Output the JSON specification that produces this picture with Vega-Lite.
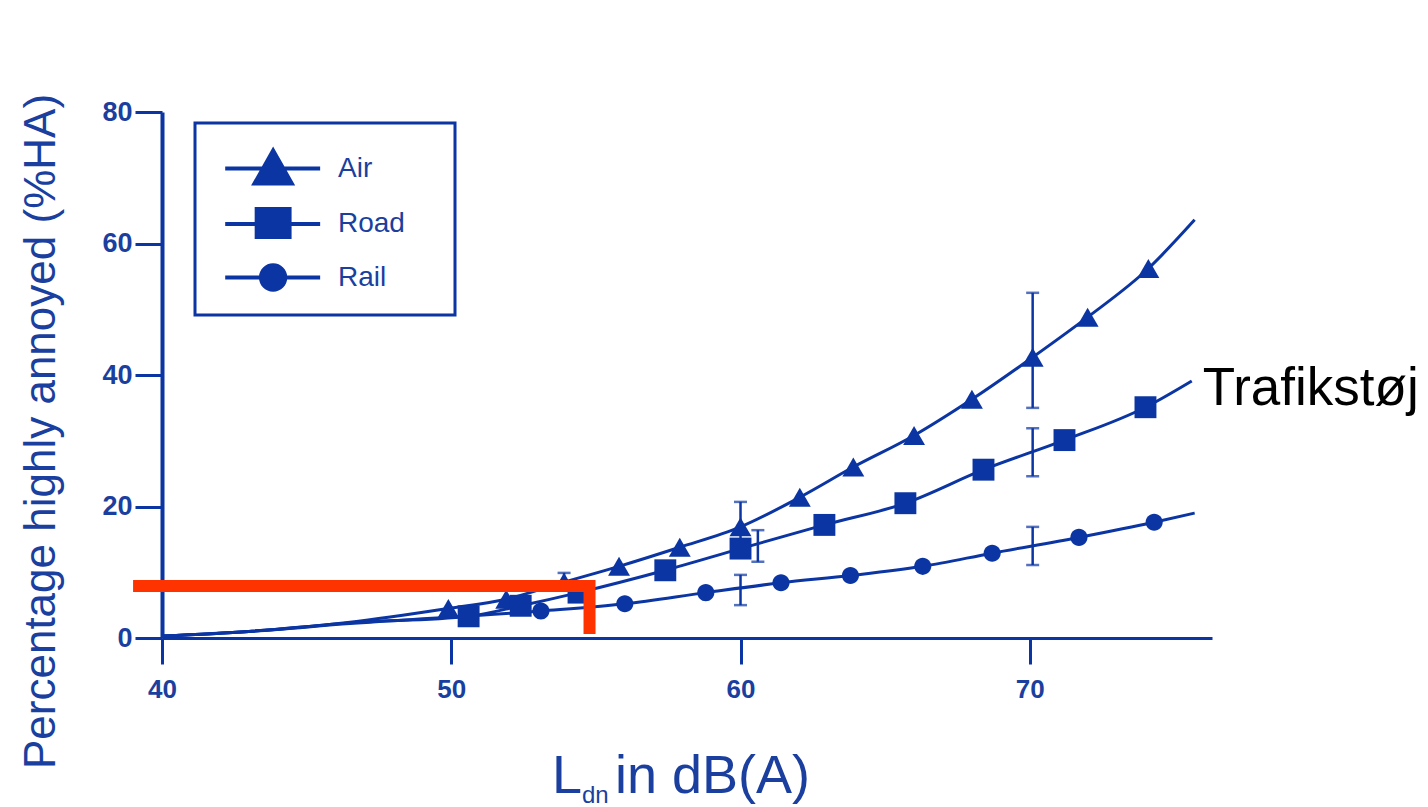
{
  "$schema": "https://vega.github.io/schema/vega-lite/v6.json",
  "autosize": "none",
  "width": 1050,
  "height": 526,
  "padding": {"left": 162, "top": 112, "right": 216, "bottom": 169},
  "background": "#ffffff",
  "config": {"view": {"stroke": null}, "legend": {"strokeWidth": 3}},
  "datasets": {
    "series": [
      {"source": "Air", "L": 40, "HA": 0.3, "marker": false},
      {"source": "Air", "L": 43, "HA": 1.0, "marker": false},
      {"source": "Air", "L": 46.5, "HA": 2.4, "marker": false},
      {"source": "Air", "L": 49.9, "HA": 4.5, "marker": true},
      {"source": "Air", "L": 51.9, "HA": 5.9, "marker": true},
      {"source": "Air", "L": 53.9, "HA": 8.5, "marker": true},
      {"source": "Air", "L": 55.8, "HA": 10.9, "marker": true},
      {"source": "Air", "L": 57.9, "HA": 13.8, "marker": true},
      {"source": "Air", "L": 60, "HA": 16.9, "marker": true},
      {"source": "Air", "L": 62.05, "HA": 21.4, "marker": true},
      {"source": "Air", "L": 63.9, "HA": 26.0, "marker": true},
      {"source": "Air", "L": 66, "HA": 30.8, "marker": true},
      {"source": "Air", "L": 68, "HA": 36.3, "marker": true},
      {"source": "Air", "L": 70.1, "HA": 42.7, "marker": true},
      {"source": "Air", "L": 72, "HA": 48.8, "marker": true},
      {"source": "Air", "L": 74.1, "HA": 56.2, "marker": true},
      {"source": "Air", "L": 75.7, "HA": 63.6, "marker": false},
      {"source": "Road", "L": 40, "HA": 0.3, "marker": false},
      {"source": "Road", "L": 43, "HA": 1.0, "marker": false},
      {"source": "Road", "L": 46.5, "HA": 2.3, "marker": false},
      {"source": "Road", "L": 50.6, "HA": 3.3, "marker": true},
      {"source": "Road", "L": 52.4, "HA": 4.9, "marker": true},
      {"source": "Road", "L": 54.4, "HA": 6.9, "marker": true},
      {"source": "Road", "L": 57.4, "HA": 10.3, "marker": true},
      {"source": "Road", "L": 60, "HA": 13.6, "marker": true},
      {"source": "Road", "L": 62.9, "HA": 17.2, "marker": true},
      {"source": "Road", "L": 65.7, "HA": 20.5, "marker": true},
      {"source": "Road", "L": 68.4, "HA": 25.6, "marker": true},
      {"source": "Road", "L": 71.2, "HA": 30.1, "marker": true},
      {"source": "Road", "L": 74, "HA": 35.1, "marker": true},
      {"source": "Road", "L": 75.6, "HA": 39.1, "marker": false},
      {"source": "Rail", "L": 40, "HA": 0.3, "marker": false},
      {"source": "Rail", "L": 43, "HA": 1.0, "marker": false},
      {"source": "Rail", "L": 46.5, "HA": 2.2, "marker": false},
      {"source": "Rail", "L": 53.1, "HA": 4.1, "marker": true},
      {"source": "Rail", "L": 56, "HA": 5.2, "marker": true},
      {"source": "Rail", "L": 58.8, "HA": 6.9, "marker": true},
      {"source": "Rail", "L": 61.4, "HA": 8.4, "marker": true},
      {"source": "Rail", "L": 63.8, "HA": 9.5, "marker": true},
      {"source": "Rail", "L": 66.3, "HA": 10.9, "marker": true},
      {"source": "Rail", "L": 68.7, "HA": 12.9, "marker": true},
      {"source": "Rail", "L": 71.7, "HA": 15.3, "marker": true},
      {"source": "Rail", "L": 74.3, "HA": 17.6, "marker": true},
      {"source": "Rail", "L": 75.7, "HA": 19.0, "marker": false}
    ],
    "bars": [
      {"source": "Air", "L": 53.9, "lo": 7.6, "hi": 9.9},
      {"source": "Air", "L": 60, "lo": 13.1, "hi": 20.7},
      {"source": "Air", "L": 70.1, "lo": 35.0, "hi": 52.5},
      {"source": "Road", "L": 60.6, "lo": 11.6, "hi": 16.4},
      {"source": "Road", "L": 70.1, "lo": 24.6, "hi": 31.9},
      {"source": "Rail", "L": 60, "lo": 5.0, "hi": 9.6},
      {"source": "Rail", "L": 70.1, "lo": 11.1, "hi": 16.9}
    ],
    "red": [
      {"step": 1, "L": 39.0, "HA": 7.9},
      {"step": 2, "L": 54.78, "HA": 7.9},
      {"step": 3, "L": 54.78, "HA": 0.6}
    ]
  },
  "resolve": {"scale": {"shape": "independent"}},
  "layer": [
    {
      "data": {"name": "series"},
      "mark": {"type": "line", "interpolate": "monotone", "strokeWidth": 3, "color": "#0b35a2"},
      "encoding": {
        "x": {
          "field": "L", "type": "quantitative",
          "scale": {"domain": [40, 76.3], "nice": false, "zero": false},
          "axis": {
            "title": null, "values": [40, 50, 60, 70], "grid": false,
            "domainColor": "#0b35a2", "domainWidth": 3,
            "tickColor": "#0b35a2", "tickWidth": 3, "tickSize": 26,
            "labelFont": "Liberation Sans", "labelFontWeight": "bold", "labelFontSize": 26,
            "labelColor": "#1a3f9f", "labelPadding": 12, "labelFlush": false, "labelOverlap": false
          }
        },
        "y": {
          "field": "HA", "type": "quantitative",
          "title": "Percentage highly annoyed (%HA)",
          "scale": {"domain": [0, 80], "nice": false},
          "axis": {
            "values": [0, 20, 40, 60, 80], "grid": false,
            "domainColor": "#0b35a2", "domainWidth": 4,
            "tickColor": "#0b35a2", "tickWidth": 3, "tickSize": 27,
            "labelFont": "Liberation Sans", "labelFontWeight": "bold", "labelFontSize": 27,
            "labelColor": "#1a3f9f", "labelPadding": 3,
            "titleFont": "Liberation Sans", "titleFontSize": 44, "titleFontWeight": "normal",
            "titleColor": "#1a3f9f", "titleX": -108, "titleY": 319, "titleAngle": -90,
            "titleAlign": "center", "titleBaseline": "alphabetic"
          }
        },
        "detail": {"field": "source"}
      }
    },
    {
      "data": {"name": "bars"},
      "mark": {"type": "errorbar", "ticks": true, "size": 13, "thickness": 2.5, "color": "#0b35a2"},
      "encoding": {
        "x": {"field": "L", "type": "quantitative"},
        "y": {"field": "lo", "type": "quantitative", "title": "Percentage highly annoyed (%HA)"},
        "y2": {"field": "hi"}
      }
    },
    {
      "data": {"name": "series"},
      "transform": [{"filter": "datum.marker"}],
      "mark": {"type": "point", "filled": true, "opacity": 1, "size": 480, "color": "#0b35a2"},
      "encoding": {
        "x": {"field": "L", "type": "quantitative"},
        "y": {"field": "HA", "type": "quantitative", "title": "Percentage highly annoyed (%HA)"},
        "shape": {
          "field": "source", "type": "nominal",
          "scale": {"domain": ["Air", "Road", "Rail"], "range": ["triangle-up", "square", "M0.78,0A0.78,0.78 0 1,1 -0.78,0A0.78,0.78 0 1,1 0.78,0Z"]},
          "legend": null
        }
      }
    },
    {
      "data": {"name": "series"},
      "transform": [{"filter": "datum.L < 0"}],
      "mark": {"type": "point", "filled": true, "opacity": 1, "size": 2025, "color": "#0b35a2"},
      "encoding": {
        "x": {"field": "L", "type": "quantitative"},
        "y": {"field": "HA", "type": "quantitative", "title": "Percentage highly annoyed (%HA)"},
        "shape": {
          "field": "source", "type": "nominal",
          "scale": {"domain": ["Air", "Road", "Rail"], "range": [
            "M-0.68,-0.09H3.54V0.09H-0.68ZM1.45,-0.98L2.43,0.76L0.47,0.76ZM8.47,0",
            "M-0.68,-0.09H3.54V0.09H-0.68ZM0.63,-0.76H2.27V0.67H0.63ZM8.47,0",
            "M-0.68,-0.09H3.54V0.09H-0.68ZM2.08,0A0.63,0.63 0 1,1 0.82,0A0.63,0.63 0 1,1 2.08,0ZM8.47,0"
          ]},
          "legend": {
            "title": null, "orient": "none", "legendX": 33, "legendY": 11,
            "padding": 23, "strokeColor": "#0b35a2", "fillColor": "#ffffff",
            "symbolSize": 2025, "symbolFillColor": "#0b35a2", "symbolStrokeColor": "#0b35a2",
            "symbolStrokeWidth": 0, "symbolOpacity": 1,
            "labelFont": "Liberation Sans", "labelFontSize": 28, "labelColor": "#1a3f9f",
            "labelOffset": 75, "rowPadding": 15.5
          }
        }
      }
    },
    {
      "data": {"name": "red"},
      "mark": {"type": "line", "color": "#ff3300", "strokeWidth": 12, "strokeCap": "butt", "strokeJoin": "miter", "clip": false},
      "encoding": {
        "x": {"field": "L", "type": "quantitative"},
        "y": {"field": "HA", "type": "quantitative", "title": "Percentage highly annoyed (%HA)"},
        "order": {"field": "step", "type": "quantitative"}
      }
    },
    {
      "data": {"values": [{}]},
      "mark": {"type": "text", "text": "Trafikstøj", "align": "left", "baseline": "alphabetic", "font": "Liberation Sans", "fontSize": 53, "color": "#000000"},
      "encoding": {
        "x": {"datum": 75.98, "type": "quantitative"},
        "y": {"datum": 35.44, "type": "quantitative"}
      }
    },
    {
      "data": {"values": [{}]},
      "mark": {"type": "text", "text": "L", "align": "left", "baseline": "alphabetic", "font": "Liberation Sans", "fontSize": 54, "color": "#1a3f9f"},
      "encoding": {
        "x": {"datum": 53.48, "type": "quantitative"},
        "y": {"datum": -23.57, "type": "quantitative"}
      }
    },
    {
      "data": {"values": [{}]},
      "mark": {"type": "text", "text": "dn", "align": "left", "baseline": "alphabetic", "font": "Liberation Sans", "fontSize": 24, "color": "#1a3f9f"},
      "encoding": {
        "x": {"datum": 54.52, "type": "quantitative"},
        "y": {"datum": -25.1, "type": "quantitative"}
      }
    },
    {
      "data": {"values": [{}]},
      "mark": {"type": "text", "text": "in dB(A)", "align": "left", "baseline": "alphabetic", "font": "Liberation Sans", "fontSize": 54, "color": "#1a3f9f"},
      "encoding": {
        "x": {"datum": 55.66, "type": "quantitative"},
        "y": {"datum": -23.57, "type": "quantitative"}
      }
    }
  ]
}
